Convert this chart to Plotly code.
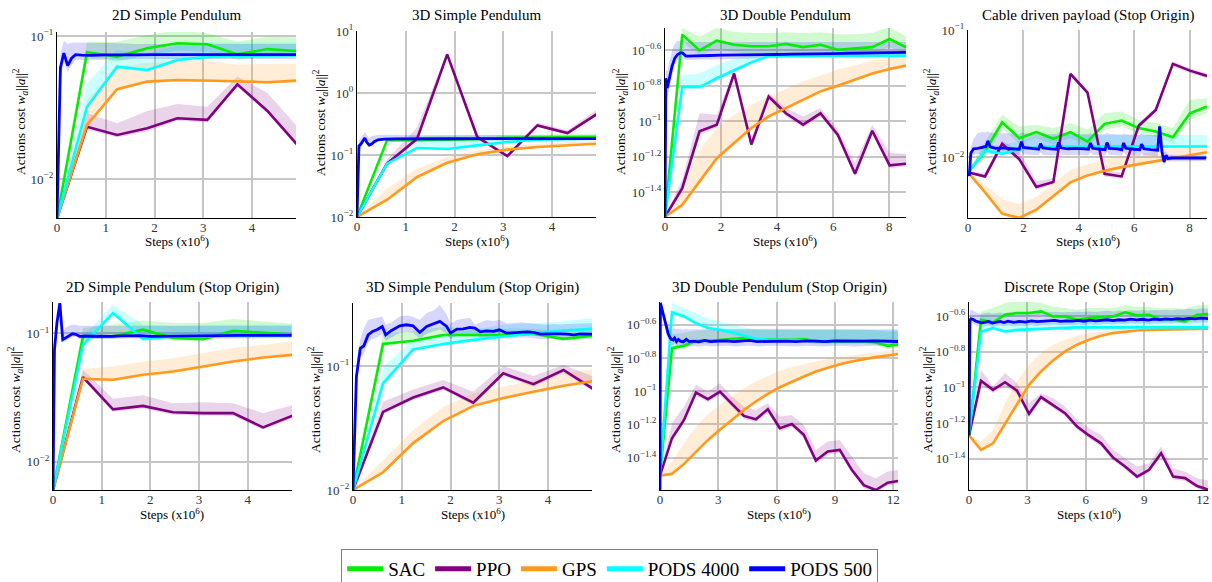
import plotly.graph_objects as go

W, H = 1212, 582
FONT = "Liberation Serif"

NAMES = ["SAC", "PPO", "GPS", "PODS 4000", "PODS 500"]
LINE_COLORS = ["#00ee00", "#800080", "#ff9a1f", "#00ffff", "#0000ff"]
BAND_COLORS = ["rgba(0,230,0,0.18)", "rgba(128,0,128,0.17)", "rgba(255,154,31,0.18)",
               "rgba(0,255,255,0.2)", "rgba(0,0,255,0.16)"]

# ---------------- shared coarse x grids (x10^6 steps) ----------------
X9 = [0.0, 0.616, 1.233, 1.849, 2.466, 3.082, 3.699, 4.315, 4.931]
X15 = [0.0, 0.616, 1.233, 1.849, 2.466, 3.082, 3.699, 4.315, 4.931, 5.548, 6.164, 6.781, 7.397, 8.014, 8.630]
X21 = [0.0, 0.616, 1.233, 1.849, 2.466, 3.082, 3.699, 4.315, 4.931, 5.548, 6.164, 6.781, 7.397, 8.014, 8.630,
       9.247, 9.863, 10.48, 11.096, 11.713, 12.329]

# ---------------- Panel 1: 2D Simple Pendulum ----------------
P1_SAC = [0.0053, 0.0769, 0.0716, 0.082, 0.0889, 0.0875, 0.0744, 0.081, 0.0785]
P1_SAC_HI = [0.0053, 0.091, 0.091, 0.1016, 0.109, 0.105, 0.091, 0.099, 0.098]
P1_SAC_LO = [0.0053, 0.070, 0.066, 0.074, 0.079, 0.078, 0.068, 0.073, 0.071]
P1_PPO = [0.0053, 0.0232, 0.0203, 0.0226, 0.0266, 0.0259, 0.0459, 0.0299, 0.0173]
P1_PPO_HI = [0.0053, 0.0288, 0.0245, 0.0299, 0.0335, 0.032, 0.052, 0.040, 0.0232]
P1_PPO_LO = [0.0053, 0.0222, 0.0195, 0.0216, 0.0255, 0.0248, 0.044, 0.0287, 0.0166]
P1_GPS = [0.0053, 0.0239, 0.0424, 0.048, 0.0492, 0.049, 0.0483, 0.0475, 0.0488]
P1_GPS_HI = [0.0053, 0.0356, 0.061, 0.065, 0.067, 0.067, 0.063, 0.064, 0.064]
P1_GPS_LO = [0.0053, 0.0229, 0.041, 0.0465, 0.0478, 0.0476, 0.047, 0.0462, 0.0475]
P1_P4K = [0.0053, 0.032, 0.061, 0.0578, 0.068, 0.0715, 0.0728, 0.0728, 0.0733]
P1_P4K_HI = [0.0053, 0.0467, 0.0798, 0.075, 0.086, 0.09, 0.09, 0.09, 0.09]
P1_P4K_LO = [0.0053, 0.031, 0.059, 0.056, 0.066, 0.069, 0.070, 0.070, 0.071]
P1_P500_X = [0, 0.07, 0.14, 0.22, 0.3, 0.38, 0.5, 0.7, 1.0, 1.3, 1.6, 2.0, 2.4, 2.8, 3.2, 3.6, 4.0, 4.4, 4.9]
P1_P500 = [0.0053, 0.06, 0.076, 0.062, 0.07, 0.074, 0.0735, 0.0732, 0.0738, 0.0735,
           0.0737, 0.074, 0.0738, 0.0741, 0.0739, 0.074, 0.0741, 0.074, 0.0741]
P1_P500_HI = [0.0053, 0.075, 0.093, 0.088, 0.09, 0.09, 0.09, 0.09, 0.09, 0.089,
              0.088, 0.088, 0.087, 0.088, 0.087, 0.088, 0.087, 0.088, 0.088]
P1_P500_LO = [0.0053, 0.05, 0.066, 0.056, 0.063, 0.068, 0.068, 0.068, 0.069, 0.068,
              0.069, 0.069, 0.069, 0.069, 0.069, 0.069, 0.069, 0.069, 0.069]

# ---------------- Panel 2: 3D Simple Pendulum ----------------
P2_SAC = [0.01, 0.1726, 0.173, 0.176, 0.18, 0.19, 0.193, 0.195, 0.195]
P2_SAC_HI = [0.01, 0.19, 0.2, 0.205, 0.21, 0.215, 0.215, 0.22, 0.22]
P2_SAC_LO = [0.01, 0.165, 0.166, 0.168, 0.172, 0.18, 0.183, 0.185, 0.185]
P2_PPO = [0.01, 0.0724, 0.183, 4.2, 0.195, 0.0964, 0.3, 0.226, 0.464]
P2_PPO_HI = [0.01, 0.085, 0.28, 4.6, 0.21, 0.102, 0.33, 0.25, 0.55]
P2_PPO_LO = [0.01, 0.068, 0.17, 3.9, 0.185, 0.092, 0.285, 0.215, 0.44]
P2_GPS = [0.01, 0.019, 0.0442, 0.075, 0.1026, 0.122, 0.1346, 0.143, 0.152]
P2_GPS_HI = [0.01, 0.0286, 0.06, 0.093, 0.118, 0.138, 0.152, 0.16, 0.17]
P2_GPS_LO = [0.01, 0.018, 0.042, 0.072, 0.099, 0.118, 0.13, 0.139, 0.148]
P2_P4K = [0.01, 0.0724, 0.13, 0.125, 0.143, 0.162, 0.176, 0.18, 0.183]
P2_P4K_HI = [0.01, 0.08, 0.17, 0.18, 0.19, 0.2, 0.205, 0.205, 0.205]
P2_P4K_LO = [0.01, 0.07, 0.126, 0.121, 0.139, 0.157, 0.17, 0.175, 0.178]
P2_P500_X = [0, 0.04, 0.08, 0.12, 0.16, 0.2, 0.25, 0.3, 0.36, 0.43, 0.55, 0.8, 1.2, 1.8, 2.4, 3.0, 3.6, 4.2, 4.9]
P2_P500 = [0.01, 0.14, 0.15, 0.165, 0.188, 0.16, 0.145, 0.15, 0.165, 0.176,
           0.18, 0.182, 0.181, 0.183, 0.184, 0.183, 0.184, 0.183, 0.184]
P2_P500_HI = [0.01, 0.17, 0.19, 0.215, 0.235, 0.21, 0.19, 0.2, 0.205, 0.21,
              0.212, 0.21, 0.21, 0.21, 0.21, 0.21, 0.21, 0.21, 0.21]
P2_P500_LO = [0.01, 0.12, 0.13, 0.15, 0.17, 0.145, 0.135, 0.14, 0.155, 0.165,
              0.17, 0.172, 0.172, 0.173, 0.174, 0.173, 0.174, 0.173, 0.174]

# ---------------- Panel 3: 3D Double Pendulum ----------------
P3_SAC = [0.029, 0.308, 0.251, 0.285, 0.27, 0.265, 0.265, 0.273, 0.262, 0.27, 0.253, 0.257, 0.262, 0.291, 0.26]
P3_SAC_HI = [0.029, 0.336, 0.30, 0.336, 0.32, 0.315, 0.315, 0.318, 0.315, 0.318, 0.31, 0.31, 0.315, 0.34, 0.30]
P3_SAC_LO = [0.029, 0.28, 0.235, 0.255, 0.245, 0.24, 0.24, 0.245, 0.24, 0.245, 0.235, 0.238, 0.24, 0.262, 0.24]
P3_PPO = [0.029, 0.042, 0.0879, 0.0958, 0.186, 0.074, 0.138, 0.111, 0.0958, 0.111, 0.084, 0.0507, 0.0885, 0.0565, 0.0578]
P3_PPO_HI = [0.029, 0.0469, 0.111, 0.109, 0.195, 0.0805, 0.1445, 0.119, 0.1066, 0.119, 0.0897, 0.058, 0.0958, 0.0663, 0.0657]
P3_PPO_LO = [0.029, 0.040, 0.084, 0.092, 0.18, 0.071, 0.133, 0.107, 0.092, 0.107, 0.081, 0.049, 0.085, 0.0545, 0.0558]
P3_GPS = [0.029, 0.0339, 0.0459, 0.062, 0.0755, 0.0917, 0.1066, 0.1188, 0.1336, 0.1476, 0.1589, 0.1718, 0.186, 0.197, 0.2066]
P3_GPS_HI = [0.029, 0.043, 0.069, 0.0917, 0.109, 0.124, 0.138, 0.153, 0.168, 0.181, 0.196, 0.207, 0.22, 0.23, 0.237]
P3_GPS_LO = [0.029, 0.0325, 0.044, 0.06, 0.073, 0.089, 0.103, 0.115, 0.13, 0.143, 0.155, 0.168, 0.182, 0.193, 0.202]
P3_P4K = [0.029, 0.156, 0.156, 0.175, 0.194, 0.215, 0.234, 0.234, 0.234, 0.234, 0.234, 0.234, 0.234, 0.234, 0.234]
P3_P4K_HI = [0.029, 0.182, 0.186, 0.208, 0.227, 0.237, 0.24, 0.24, 0.24, 0.24, 0.24, 0.24, 0.24, 0.24, 0.24]
P3_P4K_LO = [0.029, 0.152, 0.152, 0.171, 0.19, 0.21, 0.229, 0.229, 0.229, 0.229, 0.229, 0.229, 0.229, 0.229, 0.229]
P3_P500_X = [0, 0.03, 0.08, 0.15, 0.25, 0.35, 0.45, 0.55, 0.62, 0.75,
             0.9, 1.2, 1.6, 2.0, 2.5, 3.0, 3.5, 4.0, 4.5, 5.0,
             5.5, 6.0, 6.5, 7.0, 7.5, 8.0, 8.6]
P3_P500 = [0.029, 0.175, 0.154, 0.175, 0.204, 0.227, 0.238, 0.243, 0.243, 0.233,
           0.233, 0.234, 0.235, 0.236, 0.236, 0.237, 0.237, 0.238, 0.239, 0.239,
           0.24, 0.241, 0.242, 0.243, 0.243, 0.244, 0.245]
P3_P500_HI = [0.029, 0.2, 0.19, 0.21, 0.25, 0.275, 0.285, 0.285, 0.285, 0.282,
              0.28, 0.28, 0.28, 0.28, 0.28, 0.28, 0.28, 0.28, 0.28, 0.28,
              0.28, 0.28, 0.28, 0.28, 0.28, 0.28, 0.28]
P3_P500_LO = [0.029, 0.15, 0.135, 0.15, 0.18, 0.21, 0.222, 0.228, 0.228, 0.222,
              0.223, 0.224, 0.225, 0.226, 0.226, 0.227, 0.227, 0.228, 0.229, 0.229,
              0.23, 0.231, 0.232, 0.233, 0.233, 0.234, 0.235]

# ---------------- Panel 4: Cable driven payload (Stop Origin) ----------------
P4_SAC = [0.00764, 0.01114, 0.0189, 0.01416, 0.0158, 0.014, 0.0158, 0.01333, 0.01836, 0.0195, 0.017, 0.016, 0.0144, 0.0222, 0.0251]
P4_SAC_HI = [0.00764, 0.0133, 0.0216, 0.0175, 0.018, 0.017, 0.0186, 0.0165, 0.0222, 0.0229, 0.0197, 0.0186, 0.017, 0.0283, 0.029]
P4_SAC_LO = [0.00764, 0.0098, 0.0168, 0.0128, 0.0143, 0.0127, 0.0143, 0.0121, 0.0165, 0.0176, 0.0154, 0.0145, 0.013, 0.0198, 0.0222]
P4_PPO = [0.00764, 0.0071, 0.0128, 0.0097, 0.00586, 0.00641, 0.0452, 0.0323, 0.00745, 0.0071, 0.0177, 0.0236, 0.0542, 0.048, 0.0436]
P4_PPO_HI = [0.00764, 0.0076, 0.0135, 0.0112, 0.0065, 0.0069, 0.0472, 0.0338, 0.0079, 0.0076, 0.0186, 0.0248, 0.0565, 0.050, 0.0455]
P4_PPO_LO = [0.00764, 0.0068, 0.0122, 0.0093, 0.0056, 0.0061, 0.0435, 0.031, 0.0071, 0.0068, 0.0169, 0.0226, 0.052, 0.046, 0.042]
P4_GPS = [0.00764, 0.00532, 0.00362, 0.00335, 0.00389, 0.00496, 0.00637, 0.00723, 0.00787, 0.0084, 0.00887, 0.00942, 0.00988, 0.01037, 0.011]
P4_GPS_HI = [0.00764, 0.0061, 0.0047, 0.0043, 0.0049, 0.0063, 0.008, 0.0088, 0.0096, 0.0102, 0.0105, 0.0112, 0.0119, 0.0122, 0.0128]
P4_GPS_LO = [0.00764, 0.0051, 0.0035, 0.0033, 0.0037, 0.0048, 0.0062, 0.007, 0.0076, 0.0081, 0.0086, 0.0091, 0.0096, 0.0101, 0.0107]
P4_P4K = [0.00764, 0.0113, 0.0107, 0.0116, 0.012, 0.0122, 0.0122, 0.0122, 0.0122, 0.0122, 0.0122, 0.0122, 0.0122, 0.0122, 0.0122]
P4_P4K_HI = [0.00764, 0.0125, 0.0125, 0.0135, 0.0142, 0.0148, 0.015, 0.015, 0.015, 0.015, 0.015, 0.015, 0.015, 0.015, 0.015]
P4_P4K_LO = [0.00764, 0.011, 0.0104, 0.0113, 0.0117, 0.0119, 0.0119, 0.0119, 0.0119, 0.0119, 0.0119, 0.0119, 0.0119, 0.0119, 0.0119]
P4_P500_X = [0, 0.05, 0.1, 0.2, 0.35, 0.5, 0.65, 0.72, 0.8, 1.0,
             1.3, 1.6, 1.85, 1.93, 2.0, 2.3, 2.55, 2.62, 2.7, 3.0,
             3.2, 3.27, 3.35, 3.6, 3.9, 4.2, 4.35, 4.42, 4.5, 4.8,
             4.95, 5.02, 5.1, 5.4, 5.55, 5.62, 5.7, 6.0, 6.2, 6.27,
             6.35, 6.6, 6.85, 6.92, 7.0, 7.08, 7.15, 7.22, 7.35, 7.7,
             8.0, 8.3, 8.6]
P4_P500 = [0.0076, 0.0072, 0.0108, 0.0117, 0.0118, 0.012, 0.0122, 0.0135, 0.0121, 0.0118,
           0.0119, 0.0117, 0.0116, 0.0133, 0.012, 0.0118, 0.0116, 0.0128, 0.0119, 0.0117,
           0.0116, 0.0131, 0.0119, 0.0117, 0.0118, 0.0117, 0.0116, 0.013, 0.0118, 0.0116,
           0.0115, 0.0131, 0.0118, 0.0117, 0.0115, 0.013, 0.0118, 0.0116, 0.0115, 0.0127,
           0.0117, 0.0115, 0.0114, 0.0175, 0.0112, 0.0092, 0.0104, 0.0098, 0.0099, 0.0099,
           0.0099, 0.0099, 0.0099]
P4_P500_HI = [0.0076, 0.008, 0.012, 0.014, 0.0155, 0.0158, 0.0158, 0.016, 0.0157, 0.0155,
              0.0155, 0.0154, 0.0153, 0.0158, 0.0155, 0.0154, 0.0153, 0.0156, 0.0154, 0.0153,
              0.0153, 0.0157, 0.0154, 0.0153, 0.0153, 0.0153, 0.0152, 0.0156, 0.0153, 0.0152,
              0.0152, 0.0156, 0.0153, 0.0152, 0.0151, 0.0155, 0.0152, 0.0151, 0.015, 0.0154,
              0.0151, 0.015, 0.015, 0.019, 0.0135, 0.011, 0.0112, 0.0106, 0.0105, 0.0104,
              0.0104, 0.0104, 0.0104]
P4_P500_LO = [0.0076, 0.0066, 0.0098, 0.0105, 0.0106, 0.0107, 0.0108, 0.0115, 0.0107, 0.0106,
              0.0106, 0.0105, 0.0104, 0.0112, 0.0106, 0.0105, 0.0104, 0.011, 0.0105, 0.0104,
              0.0104, 0.0111, 0.0105, 0.0104, 0.0105, 0.0104, 0.0104, 0.011, 0.0105, 0.0104,
              0.0103, 0.0111, 0.0105, 0.0104, 0.0103, 0.011, 0.0105, 0.0104, 0.0103, 0.0108,
              0.0104, 0.0103, 0.0102, 0.015, 0.0095, 0.0086, 0.0096, 0.0093, 0.0094, 0.0094,
              0.0094, 0.0094, 0.0094]

# ---------------- Panel 5: 2D Simple Pendulum (Stop Origin) ----------------
P5_SAC = [0.006, 0.0948, 0.0948, 0.107, 0.092, 0.0903, 0.105, 0.102, 0.0977]
P5_SAC_HI = [0.006, 0.11, 0.117, 0.126, 0.1205, 0.1205, 0.1294, 0.124, 0.119]
P5_SAC_LO = [0.006, 0.091, 0.091, 0.102, 0.088, 0.087, 0.1, 0.097, 0.094]
P5_PPO = [0.006, 0.0456, 0.0256, 0.0272, 0.0243, 0.0239, 0.0239, 0.0185, 0.0229]
P5_PPO_HI = [0.006, 0.052, 0.031, 0.033, 0.0286, 0.029, 0.0286, 0.0239, 0.0277]
P5_PPO_LO = [0.006, 0.044, 0.0245, 0.026, 0.0232, 0.0228, 0.0228, 0.0177, 0.0219]
P5_GPS = [0.006, 0.0443, 0.0435, 0.0476, 0.0505, 0.0552, 0.0604, 0.0649, 0.0681]
P5_GPS_HI = [0.006, 0.0527, 0.0552, 0.060, 0.064, 0.0702, 0.0768, 0.0815, 0.0866]
P5_GPS_LO = [0.006, 0.0428, 0.042, 0.046, 0.0488, 0.0534, 0.0585, 0.0628, 0.066]
P5_P4K = [0.006, 0.0815, 0.144, 0.0903, 0.0948, 0.0948, 0.0957, 0.096, 0.0965]
P5_P4K_HI = [0.006, 0.0948, 0.167, 0.117, 0.114, 0.117, 0.117, 0.117, 0.117]
P5_P4K_LO = [0.006, 0.079, 0.14, 0.0875, 0.092, 0.092, 0.093, 0.093, 0.0935]
P5_P500_X = [0, 0.03, 0.08, 0.14, 0.2, 0.25, 0.32, 0.4, 0.47, 0.55,
             0.65, 0.8, 1.0, 1.2, 1.4, 1.6, 1.8, 2.0, 2.3, 2.6,
             3.0, 3.4, 3.8, 4.2, 4.6, 4.9]
P5_P500 = [0.006, 0.0745, 0.12, 0.172, 0.0893, 0.092, 0.0948, 0.0994, 0.0985, 0.095,
           0.0955, 0.0955, 0.0945, 0.095, 0.0958, 0.0965, 0.096, 0.095, 0.0955, 0.095,
           0.0958, 0.0962, 0.0965, 0.0965, 0.0965, 0.0965]
P5_P500_HI = [0.006, 0.08, 0.13, 0.18, 0.1, 0.11, 0.115, 0.117, 0.117, 0.115,
              0.115, 0.115, 0.114, 0.114, 0.115, 0.115, 0.115, 0.114, 0.114, 0.114,
              0.115, 0.115, 0.115, 0.115, 0.115, 0.115]
P5_P500_LO = [0.006, 0.07, 0.11, 0.16, 0.085, 0.087, 0.09, 0.094, 0.094, 0.09,
              0.091, 0.091, 0.09, 0.091, 0.091, 0.092, 0.091, 0.09, 0.091, 0.09,
              0.091, 0.092, 0.092, 0.092, 0.092, 0.092]

# ---------------- Panel 6: 3D Simple Pendulum (Stop Origin) ----------------
P6_SAC = [0.01, 0.1507, 0.1597, 0.178, 0.178, 0.178, 0.182, 0.1655, 0.1763]
P6_SAC_HI = [0.01, 0.184, 0.19, 0.206, 0.2, 0.2, 0.2, 0.19, 0.195]
P6_SAC_LO = [0.01, 0.146, 0.155, 0.172, 0.172, 0.172, 0.176, 0.16, 0.17]
P6_PPO = [0.01, 0.0426, 0.0557, 0.0672, 0.0507, 0.0872, 0.0714, 0.0928, 0.0651]
P6_PPO_HI = [0.01, 0.0514, 0.0647, 0.077, 0.062, 0.1, 0.083, 0.1019, 0.082]
P6_PPO_LO = [0.01, 0.041, 0.0535, 0.064, 0.0485, 0.083, 0.068, 0.088, 0.062]
P6_GPS = [0.01, 0.0139, 0.0239, 0.036, 0.0477, 0.0553, 0.0619, 0.0693, 0.0756]
P6_GPS_HI = [0.01, 0.0173, 0.0303, 0.0468, 0.06, 0.068, 0.077, 0.087, 0.0946]
P6_GPS_LO = [0.01, 0.0134, 0.023, 0.0347, 0.046, 0.0534, 0.0598, 0.067, 0.073]
P6_P4K = [0.01, 0.0723, 0.136, 0.1507, 0.1625, 0.173, 0.184, 0.193, 0.1995]
P6_P4K_HI = [0.01, 0.0988, 0.1625, 0.178, 0.196, 0.215, 0.2216, 0.229, 0.2434]
P6_P4K_LO = [0.01, 0.07, 0.132, 0.146, 0.157, 0.168, 0.179, 0.188, 0.194]
P6_P500_X = [0, 0.07, 0.15, 0.22, 0.31, 0.4, 0.49, 0.6, 0.67, 0.79,
             0.96, 1.1, 1.23, 1.37, 1.51, 1.65, 1.78, 1.92, 2.0, 2.13,
             2.26, 2.4, 2.5, 2.61, 2.74, 2.88, 3.0, 3.15, 3.29, 3.43,
             3.57, 3.7, 3.84, 3.98, 4.12, 4.25, 4.39, 4.53, 4.66, 4.8,
             4.92]
P6_P500 = [0.01, 0.082, 0.139, 0.145, 0.178, 0.19, 0.1958, 0.2084, 0.1784, 0.1934,
           0.211, 0.215, 0.211, 0.1864, 0.2084, 0.219, 0.2288, 0.2084, 0.184, 0.1983,
           0.1995, 0.2046, 0.202, 0.1887, 0.1922, 0.19, 0.1958, 0.184, 0.1864, 0.1875,
           0.1887, 0.1864, 0.1806, 0.1817, 0.1829, 0.1817, 0.1806, 0.1784, 0.1817, 0.1806,
           0.1806]
P6_P500_HI = [0.01, 0.1, 0.165, 0.2, 0.236, 0.24, 0.245, 0.251, 0.215, 0.225,
              0.251, 0.255, 0.25, 0.235, 0.267, 0.28, 0.31, 0.26, 0.22, 0.235,
              0.24, 0.245, 0.215, 0.225, 0.235, 0.23, 0.236, 0.22, 0.222, 0.225,
              0.222, 0.22, 0.218, 0.215, 0.218, 0.216, 0.218, 0.22, 0.22, 0.221,
              0.221]
P6_P500_LO = [0.01, 0.07, 0.12, 0.125, 0.155, 0.165, 0.17, 0.18, 0.16, 0.17,
              0.185, 0.188, 0.185, 0.165, 0.182, 0.19, 0.198, 0.182, 0.165, 0.175,
              0.176, 0.18, 0.178, 0.168, 0.17, 0.169, 0.173, 0.166, 0.168, 0.169,
              0.17, 0.168, 0.164, 0.165, 0.166, 0.165, 0.164, 0.163, 0.165, 0.164,
              0.164]

# ---------------- Panel 7: 3D Double Pendulum (Stop Origin) ----------------
P7_SAC = [0.031, 0.1815, 0.1876, 0.2013, 0.2013, 0.204, 0.207, 0.209, 0.206, 0.204, 0.204,
          0.204, 0.206, 0.1995, 0.1995, 0.1995, 0.1995, 0.1995, 0.1965, 0.1876, 0.192]
P7_SAC_HI = [0.031, 0.22, 0.225, 0.232, 0.235, 0.236, 0.236, 0.236, 0.236, 0.236, 0.236,
             0.236, 0.236, 0.234, 0.234, 0.234, 0.234, 0.234, 0.232, 0.228, 0.23]
P7_SAC_LO = [0.031, 0.175, 0.18, 0.193, 0.193, 0.196, 0.199, 0.2, 0.198, 0.196, 0.196,
             0.196, 0.198, 0.192, 0.192, 0.192, 0.192, 0.192, 0.189, 0.18, 0.185]
P7_PPO = [0.031, 0.0521, 0.0671, 0.0982, 0.0895, 0.0995, 0.0839, 0.071, 0.0678, 0.0778, 0.0598,
          0.0635, 0.0546, 0.0382, 0.0433, 0.0443, 0.0336, 0.0272, 0.0254, 0.0281, 0.0289]
P7_PPO_HI = [0.031, 0.0641, 0.0809, 0.1092, 0.0995, 0.1117, 0.0929, 0.0809, 0.0771, 0.0847, 0.0704,
             0.072, 0.0627, 0.0443, 0.0497, 0.0509, 0.0404, 0.0321, 0.0299, 0.0328, 0.0336]
P7_PPO_LO = [0.031, 0.05, 0.064, 0.094, 0.086, 0.095, 0.08, 0.068, 0.065, 0.074, 0.057,
             0.061, 0.052, 0.0365, 0.0415, 0.0425, 0.032, 0.026, 0.0245, 0.027, 0.0278]
P7_GPS = [0.031, 0.0318, 0.0365, 0.0433, 0.0509, 0.0585, 0.0671, 0.0771, 0.0867, 0.0964, 0.1057,
          0.1143, 0.1225, 0.1314, 0.139, 0.1455, 0.151, 0.156, 0.1603, 0.164, 0.168]
P7_GPS_HI = [0.031, 0.0377, 0.0486, 0.0612, 0.0729, 0.0827, 0.0938, 0.1042, 0.1143, 0.1236, 0.1327,
             0.1396, 0.1455, 0.151, 0.156, 0.1603, 0.164, 0.168, 0.1711, 0.1758, 0.179]
P7_GPS_LO = [0.031, 0.0308, 0.0355, 0.042, 0.0495, 0.057, 0.0655, 0.0752, 0.0847, 0.0943, 0.1035,
             0.112, 0.12, 0.1288, 0.1363, 0.1428, 0.1482, 0.1531, 0.1575, 0.1612, 0.1652]
P7_P4K = [0.031, 0.299, 0.282, 0.257, 0.24, 0.2344, 0.226, 0.216, 0.207, 0.204, 0.202,
          0.202, 0.202, 0.202, 0.202, 0.202, 0.202, 0.202, 0.202, 0.202, 0.202]
P7_P4K_HI = [0.031, 0.34, 0.316, 0.295, 0.275, 0.263, 0.251, 0.243, 0.2344, 0.234, 0.234,
             0.234, 0.234, 0.234, 0.234, 0.234, 0.234, 0.234, 0.234, 0.234, 0.234]
P7_P4K_LO = [0.031, 0.29, 0.274, 0.25, 0.234, 0.228, 0.22, 0.21, 0.201, 0.198, 0.196,
             0.196, 0.196, 0.196, 0.196, 0.196, 0.196, 0.196, 0.196, 0.196, 0.196]
P7_P500_X = [0, 0.02, 0.08, 0.15, 0.25, 0.33, 0.42, 0.5, 0.58, 0.67,
             0.75, 0.85, 0.95, 1.05, 1.2, 1.35, 1.5, 1.7, 2.0, 2.3,
             2.6, 3.0, 3.4, 3.8, 4.2, 4.6, 5.0, 5.5, 6.0, 6.5,
             7.0, 7.5, 8.0, 8.5, 9.0, 9.5, 10.0, 10.5, 11.0, 11.5,
             12.0, 12.3]
P7_P500 = [0.0254, 0.34, 0.32, 0.295, 0.265, 0.24, 0.222, 0.212, 0.205, 0.203,
           0.209, 0.199, 0.205, 0.2, 0.198, 0.205, 0.199, 0.2, 0.198, 0.202,
           0.199, 0.2, 0.201, 0.199, 0.2, 0.202, 0.199, 0.2, 0.201, 0.2,
           0.199, 0.201, 0.2, 0.199, 0.201, 0.2, 0.199, 0.2, 0.201, 0.2,
           0.2, 0.199]
P7_P500_HI = [0.0254, 0.345, 0.33, 0.31, 0.285, 0.26, 0.25, 0.245, 0.24, 0.238,
              0.24, 0.236, 0.238, 0.236, 0.235, 0.238, 0.235, 0.236, 0.235, 0.236,
              0.235, 0.236, 0.236, 0.235, 0.236, 0.236, 0.235, 0.236, 0.236, 0.236,
              0.235, 0.236, 0.236, 0.235, 0.236, 0.236, 0.235, 0.236, 0.236, 0.236,
              0.236, 0.235]
P7_P500_LO = [0.0254, 0.32, 0.3, 0.28, 0.25, 0.225, 0.205, 0.196, 0.19, 0.189,
              0.194, 0.186, 0.19, 0.187, 0.185, 0.19, 0.186, 0.187, 0.185, 0.188,
              0.186, 0.187, 0.188, 0.186, 0.187, 0.188, 0.186, 0.187, 0.188, 0.187,
              0.186, 0.188, 0.187, 0.186, 0.188, 0.187, 0.186, 0.187, 0.188, 0.187,
              0.187, 0.186]

# ---------------- Panel 8: Discrete Rope (Stop Origin) ----------------
P8_SAC = [0.0537, 0.2405, 0.2323, 0.2566, 0.2624, 0.2624, 0.268, 0.2512, 0.2512, 0.2405, 0.246,
          0.249, 0.2512, 0.265, 0.2545, 0.2566, 0.2405, 0.242, 0.2355, 0.2566, 0.2588]
P8_SAC_HI = [0.0537, 0.268, 0.28, 0.2985, 0.305, 0.305, 0.2985, 0.2858, 0.28, 0.274, 0.28,
             0.28, 0.28, 0.29, 0.285, 0.285, 0.278, 0.28, 0.278, 0.29, 0.292]
P8_SAC_LO = [0.0537, 0.232, 0.225, 0.246, 0.252, 0.252, 0.257, 0.242, 0.242, 0.232, 0.237,
             0.24, 0.242, 0.254, 0.245, 0.246, 0.232, 0.233, 0.227, 0.246, 0.248]
P8_PPO = [0.0537, 0.109, 0.097, 0.107, 0.096, 0.0711, 0.0883, 0.0798, 0.0716, 0.0603, 0.0537,
          0.0485, 0.0403, 0.0359, 0.0315, 0.0344, 0.0427, 0.0315, 0.0309, 0.0279, 0.0265]
P8_PPO_HI = [0.0537, 0.1257, 0.1013, 0.1205, 0.1057, 0.0816, 0.0929, 0.0871, 0.0781, 0.0658, 0.059,
             0.0541, 0.0446, 0.04, 0.0359, 0.0375, 0.0466, 0.0351, 0.0336, 0.0308, 0.0299]
P8_PPO_LO = [0.0537, 0.104, 0.093, 0.102, 0.092, 0.068, 0.085, 0.0765, 0.0688, 0.058, 0.0516,
             0.0466, 0.0388, 0.0346, 0.0304, 0.0332, 0.041, 0.0304, 0.0298, 0.027, 0.0258]
P8_GPS = [0.0537, 0.0446, 0.0485, 0.0624, 0.0817, 0.1035, 0.123, 0.142, 0.1596, 0.174, 0.1857,
          0.1955, 0.2023, 0.2066, 0.2094, 0.211, 0.2115, 0.2133, 0.2133, 0.2138, 0.2142]
P8_GPS_HI = [0.0537, 0.0497, 0.0577, 0.0816, 0.1082, 0.1343, 0.156, 0.174, 0.1857, 0.1955, 0.2023,
             0.2066, 0.2094, 0.211, 0.2133, 0.2133, 0.2138, 0.214, 0.2142, 0.2145, 0.2148]
P8_GPS_LO = [0.0537, 0.0436, 0.0472, 0.0605, 0.079, 0.1005, 0.12, 0.139, 0.157, 0.172, 0.184,
             0.194, 0.201, 0.2055, 0.2085, 0.21, 0.2108, 0.2125, 0.2127, 0.2132, 0.2136]
P8_P4K = [0.0537, 0.2066, 0.216, 0.2066, 0.211, 0.2125, 0.2142, 0.216, 0.218, 0.218, 0.218,
          0.218, 0.218, 0.218, 0.218, 0.218, 0.218, 0.218, 0.218, 0.218, 0.218]
P8_P4K_HI = [0.0537, 0.2512, 0.24, 0.235, 0.238, 0.24, 0.24, 0.24, 0.24, 0.24, 0.24,
             0.24, 0.24, 0.24, 0.24, 0.24, 0.24, 0.24, 0.24, 0.24, 0.24]
P8_P4K_LO = [0.0537, 0.2, 0.21, 0.201, 0.205, 0.207, 0.209, 0.211, 0.212, 0.212, 0.212,
             0.212, 0.212, 0.212, 0.212, 0.212, 0.212, 0.212, 0.212, 0.212, 0.212]
P8_P500_X = [0, 0.05, 0.1, 0.2, 0.35, 0.5, 0.65, 0.8, 1.0, 1.2,
             1.4, 1.6, 1.8, 2.0, 2.3, 2.6, 2.9, 3.2, 3.5, 3.8,
             4.1, 4.4, 4.7, 5.0, 5.3, 5.6, 5.9, 6.2, 6.5, 6.8,
             7.1, 7.4, 7.7, 8.0, 8.3, 8.6, 8.9, 9.2, 9.5, 9.8,
             10.1, 10.4, 10.7, 11.0, 11.3, 11.6, 11.9, 12.3]
P8_P500 = [0.0537, 0.2405, 0.2435, 0.242, 0.236, 0.233, 0.231, 0.2323, 0.2355, 0.2303,
           0.234, 0.2355, 0.232, 0.236, 0.2323, 0.2355, 0.233, 0.237, 0.2345, 0.236,
           0.2355, 0.2385, 0.2355, 0.237, 0.236, 0.2385, 0.236, 0.2395, 0.237, 0.2385,
           0.2405, 0.238, 0.2405, 0.2395, 0.2425, 0.24, 0.242, 0.2395, 0.2425, 0.241,
           0.2435, 0.2415, 0.244, 0.2425, 0.245, 0.2435, 0.2455, 0.244]
P8_P500_HI = [0.0537, 0.27, 0.275, 0.27, 0.265, 0.262, 0.26, 0.262, 0.264, 0.26,
              0.263, 0.264, 0.262, 0.265, 0.262, 0.264, 0.263, 0.266, 0.264, 0.265,
              0.265, 0.267, 0.265, 0.266, 0.265, 0.267, 0.266, 0.268, 0.266, 0.268,
              0.27, 0.268, 0.27, 0.269, 0.272, 0.27, 0.272, 0.27, 0.273, 0.272,
              0.274, 0.272, 0.275, 0.274, 0.277, 0.275, 0.278, 0.277]
P8_P500_LO = [0.0537, 0.228, 0.231, 0.23, 0.224, 0.221, 0.219, 0.22, 0.223, 0.218,
              0.222, 0.223, 0.22, 0.224, 0.22, 0.223, 0.221, 0.225, 0.222, 0.224,
              0.223, 0.226, 0.223, 0.225, 0.224, 0.226, 0.224, 0.227, 0.225, 0.226,
              0.228, 0.226, 0.228, 0.227, 0.23, 0.228, 0.23, 0.227, 0.23, 0.229,
              0.231, 0.229, 0.232, 0.23, 0.233, 0.231, 0.233, 0.232]

# ---------------- titles / ticks ----------------
TITLES = ["2D Simple Pendulum", "3D Simple Pendulum", "3D Double Pendulum",
          "Cable driven payload (Stop Origin)", "2D Simple Pendulum (Stop Origin)",
          "3D Simple Pendulum (Stop Origin)", "3D Double Pendulum (Stop Origin)",
          "Discrete Rope (Stop Origin)"]
XT_A = [0, 1, 2, 3, 4]
XT_B = [0, 2, 4, 6, 8]
XT_C = [0, 3, 6, 9, 12]
YT_DEC = [0.01, 0.1]
YT_DEC_TXT = ["10<sup>\u22122</sup>", "10<sup>\u22121</sup>"]
YT_WIDE = [0.01, 0.1, 1, 10]
YT_WIDE_TXT = ["10<sup>\u22122</sup>", "10<sup>\u22121</sup>", "10<sup>0</sup>", "10<sup>1</sup>"]
YT_FRAC_EXP = [-1.4, -1.2, -1.0, -0.8, -0.6]
YT_FRAC_TXT = ["10<sup>\u22121.4</sup>", "10<sup>\u22121.2</sup>", "10<sup>\u22121</sup>",
               "10<sup>\u22120.8</sup>", "10<sup>\u22120.6</sup>"]
YT_FRAC = [10 ** e for e in YT_FRAC_EXP]

# panel geometry in pixels: (left, right, top, bottom), x range, log10 y range
PANELS = [
    dict(box=(57, 296, 32, 218), xr=(0, 4.9), yr=(-2.273, -0.972), xt=XT_A, yt=YT_DEC, ytt=YT_DEC_TXT, ylab=(20, 122)),
    dict(box=(357, 596, 31, 217), xr=(0, 4.9), yr=(-2.0, 1.0), xt=XT_A, yt=YT_WIDE, ytt=YT_WIDE_TXT, ylab=(320, 122)),
    dict(box=(665, 906, 28, 217), xr=(0, 8.6), yr=(-1.539, -0.474), xt=XT_B, yt=YT_FRAC, ytt=YT_FRAC_TXT, ylab=(620, 122)),
    dict(box=(968, 1207, 30, 218), xr=(0, 8.63), yr=(-2.475, -1.0), xt=XT_B, yt=YT_DEC, ytt=YT_DEC_TXT, ylab=(931, 122)),
    dict(box=(53, 292, 302, 490), xr=(0, 4.91), yr=(-2.221, -0.755), xt=XT_A, yt=YT_DEC, ytt=YT_DEC_TXT, ylab=(15, 400)),
    dict(box=(353, 592, 303, 490), xr=(0, 4.9), yr=(-2.0, -0.492), xt=XT_A, yt=YT_DEC, ytt=YT_DEC_TXT, ylab=(315, 400)),
    dict(box=(660, 898, 302, 490), xr=(0, 12.24), yr=(-1.595, -0.463), xt=XT_C, yt=YT_FRAC, ytt=YT_FRAC_TXT, ylab=(615, 400)),
    dict(box=(969, 1208, 302, 490), xr=(0, 12.27), yr=(-1.577, -0.519), xt=XT_C, yt=YT_FRAC, ytt=YT_FRAC_TXT, ylab=(927, 400)),
]

DATA = [
    [(X9, P1_SAC, P1_SAC_LO, P1_SAC_HI), (X9, P1_PPO, P1_PPO_LO, P1_PPO_HI), (X9, P1_GPS, P1_GPS_LO, P1_GPS_HI),
     (X9, P1_P4K, P1_P4K_LO, P1_P4K_HI), (P1_P500_X, P1_P500, P1_P500_LO, P1_P500_HI)],
    [(X9, P2_SAC, P2_SAC_LO, P2_SAC_HI), (X9, P2_PPO, P2_PPO_LO, P2_PPO_HI), (X9, P2_GPS, P2_GPS_LO, P2_GPS_HI),
     (X9, P2_P4K, P2_P4K_LO, P2_P4K_HI), (P2_P500_X, P2_P500, P2_P500_LO, P2_P500_HI)],
    [(X15, P3_SAC, P3_SAC_LO, P3_SAC_HI), (X15, P3_PPO, P3_PPO_LO, P3_PPO_HI), (X15, P3_GPS, P3_GPS_LO, P3_GPS_HI),
     (X15, P3_P4K, P3_P4K_LO, P3_P4K_HI), (P3_P500_X, P3_P500, P3_P500_LO, P3_P500_HI)],
    [(X15, P4_SAC, P4_SAC_LO, P4_SAC_HI), (X15, P4_PPO, P4_PPO_LO, P4_PPO_HI), (X15, P4_GPS, P4_GPS_LO, P4_GPS_HI),
     (X15, P4_P4K, P4_P4K_LO, P4_P4K_HI), (P4_P500_X, P4_P500, P4_P500_LO, P4_P500_HI)],
    [(X9, P5_SAC, P5_SAC_LO, P5_SAC_HI), (X9, P5_PPO, P5_PPO_LO, P5_PPO_HI), (X9, P5_GPS, P5_GPS_LO, P5_GPS_HI),
     (X9, P5_P4K, P5_P4K_LO, P5_P4K_HI), (P5_P500_X, P5_P500, P5_P500_LO, P5_P500_HI)],
    [(X9, P6_SAC, P6_SAC_LO, P6_SAC_HI), (X9, P6_PPO, P6_PPO_LO, P6_PPO_HI), (X9, P6_GPS, P6_GPS_LO, P6_GPS_HI),
     (X9, P6_P4K, P6_P4K_LO, P6_P4K_HI), (P6_P500_X, P6_P500, P6_P500_LO, P6_P500_HI)],
    [(X21, P7_SAC, P7_SAC_LO, P7_SAC_HI), (X21, P7_PPO, P7_PPO_LO, P7_PPO_HI), (X21, P7_GPS, P7_GPS_LO, P7_GPS_HI),
     (X21, P7_P4K, P7_P4K_LO, P7_P4K_HI), (P7_P500_X, P7_P500, P7_P500_LO, P7_P500_HI)],
    [(X21, P8_SAC, P8_SAC_LO, P8_SAC_HI), (X21, P8_PPO, P8_PPO_LO, P8_PPO_HI), (X21, P8_GPS, P8_GPS_LO, P8_GPS_HI),
     (X21, P8_P4K, P8_P4K_LO, P8_P4K_HI), (P8_P500_X, P8_P500, P8_P500_LO, P8_P500_HI)],
]

fig = go.Figure()
layout = dict(
    width=W, height=H, paper_bgcolor="white", plot_bgcolor="white",
    margin=dict(l=0, r=0, t=0, b=0, pad=0, autoexpand=False),
    font=dict(family=FONT, size=13, color="#222"),
    showlegend=True,
)
annotations = []


def px(xp):
    return xp / W


def py(yp):
    return 1 - yp / H


for k, (pan, series) in enumerate(zip(PANELS, DATA), start=1):
    xa = "x" if k == 1 else f"x{k}"
    ya = "y" if k == 1 else f"y{k}"
    l, r, t, b = pan["box"]
    axis_common = dict(showline=True, linecolor="black", linewidth=1.3, ticks="",
                       showgrid=True, gridcolor="#c6c6c6", gridwidth=1.5, zeroline=False,
                       tickfont=dict(family=FONT, size=13, color="#333"))
    layout["xaxis" if k == 1 else f"xaxis{k}"] = dict(
        domain=[px(l), px(r)], anchor=ya, range=list(pan["xr"]), tickvals=pan["xt"],
        ticktext=[str(v) for v in pan["xt"]], **axis_common)
    layout["yaxis" if k == 1 else f"yaxis{k}"] = dict(
        domain=[py(b), py(t)], anchor=xa, type="log", range=list(pan["yr"]),
        tickvals=pan["yt"], ticktext=pan["ytt"], **axis_common)

    for i, (xs, ys, lo, hi) in enumerate(series):
        fig.add_trace(go.Scatter(
            x=list(xs) + list(xs)[::-1], y=list(hi) + list(lo)[::-1],
            fill="toself", fillcolor=BAND_COLORS[i], line=dict(width=0),
            mode="lines", hoverinfo="skip", showlegend=False, xaxis=xa, yaxis=ya))
    for i, (xs, ys, lo, hi) in enumerate(series):
        fig.add_trace(go.Scatter(
            x=xs, y=ys, mode="lines", name=NAMES[i],
            line=dict(color=LINE_COLORS[i], width=2.6 if i < 4 else 2.8),
            showlegend=False, xaxis=xa, yaxis=ya))

    cx = (l + r) / 2
    top_title_y = 15 if k <= 4 else 287
    annotations.append(dict(text=TITLES[k - 1], x=px(cx), y=py(top_title_y), xref="paper", yref="paper",
                            xanchor="center", yanchor="middle", showarrow=False,
                            font=dict(family=FONT, size=15, color="black")))
    xlab_y = 241 if k <= 4 else 514
    annotations.append(dict(text="Steps (x10<sup>6</sup>)", x=px(cx), y=py(xlab_y), xref="paper", yref="paper",
                            xanchor="center", yanchor="middle", showarrow=False,
                            font=dict(family=FONT, size=13, color="black")))
    lx, ly = pan["ylab"]
    annotations.append(dict(text="Actions cost <i>w<sub>a</sub></i>||<i>a</i>||<sup>2</sup>",
                            x=px(lx), y=py(ly), xref="paper", yref="paper", textangle=-90,
                            xanchor="center", yanchor="middle", showarrow=False,
                            font=dict(family=FONT, size=13.5, color="black")))

for i, name in enumerate(NAMES):
    fig.add_trace(go.Scatter(x=[None], y=[None], mode="lines", name=name,
                             line=dict(color=LINE_COLORS[i], width=5), showlegend=True,
                             xaxis="x", yaxis="y"))

layout["annotations"] = annotations
layout["legend"] = dict(orientation="h", x=0.503, xanchor="center", y=-0.012, yanchor="bottom",
                        bordercolor="#7f7f7f", borderwidth=1, bgcolor="white",
                        font=dict(family=FONT, size=19, color="black"),
                        itemwidth=36, tracegroupgap=0)
fig.update_layout(**layout)
try:
    fig.update_xaxes(ticklabelstandoff=-3)
except Exception:
    pass

fig.write_html("out.html", config={"displayModeBar": False},
               post_script="document.body.style.margin='0';document.body.style.padding='0';")
